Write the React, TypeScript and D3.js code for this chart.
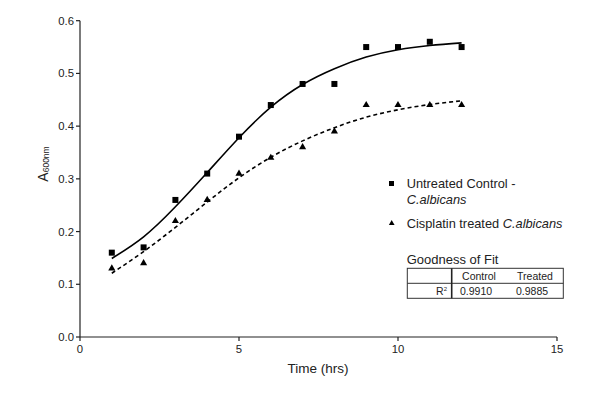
import React from "react";
import * as d3 from "d3";

const hours = [1, 2, 3, 4, 5, 6, 7, 8, 9, 10, 11, 12];
const controlValues = [0.16, 0.17, 0.26, 0.31, 0.38, 0.44, 0.48, 0.48, 0.55, 0.55, 0.56, 0.55];
const treatedValues = [0.13, 0.14, 0.22, 0.26, 0.31, 0.34, 0.36, 0.39, 0.44, 0.44, 0.44, 0.44];
const controlFit = [0.149, 0.19, 0.247, 0.312, 0.378, 0.436, 0.479, 0.509, 0.531, 0.545, 0.553, 0.558];
const treatedFit = [0.121, 0.162, 0.208, 0.256, 0.302, 0.341, 0.372, 0.397, 0.417, 0.431, 0.441, 0.448];
const xTicks = [0, 5, 10, 15];
const yTicks = [0, 0.1, 0.2, 0.3, 0.4, 0.5, 0.6];
const fitHeaders = ["Control", "Treated"];
const fitValues = ["0.9910", "0.9885"];

const FONT = "'Liberation Sans', Arial, Helvetica, sans-serif";

export default function App() {
  const W = 600, H = 404;
  const x = d3.scaleLinear().domain([0, 15]).range([80, 557]);
  const y = d3.scaleLinear().domain([0, 0.6]).range([337, 20.7]);
  const line = d3
    .line<number>()
    .x((_, i) => x(hours[i]))
    .y((d) => y(d))
    .curve(d3.curveNatural);
  const tri = d3.symbol().type(d3.symbolTriangle).size(22)();
  const sq = 6;

  const tx0 = 407.3, tx1 = 563.3, tvx = 451.7;
  const ty0 = 268.3, tmid = 283.3, ty1 = 298.3;

  return (
    <svg width={W} height={H} style={{ position: "absolute", left: 0, top: 0, background: "#fff" }} fontFamily={FONT}>
      <rect x={0} y={0} width={W} height={H} fill="#fff" />
      {/* axes */}
      <line x1={x(0)} x2={x(0)} y1={y(0)} y2={y(0.6)} stroke="#222" strokeWidth={1.2} />
      <line x1={x(0)} x2={x(15)} y1={y(0)} y2={y(0)} stroke="#222" strokeWidth={1.2} />
      {yTicks.map((t) => (
        <g key={"y" + t}>
          <line x1={x(0) - 4} x2={x(0)} y1={y(t)} y2={y(t)} stroke="#222" strokeWidth={1.2} />
          <text x={x(0) - 6} y={y(t)} dy="0.35em" textAnchor="end" fontSize={11.3} fill="#222">
            {t.toFixed(1)}
          </text>
        </g>
      ))}
      {xTicks.map((t) => (
        <g key={"x" + t}>
          <line x1={x(t)} x2={x(t)} y1={y(0)} y2={y(0) + 4} stroke="#222" strokeWidth={1.2} />
          <text x={x(t)} y={y(0) + 16} textAnchor="middle" fontSize={11.3} fill="#222">
            {t}
          </text>
        </g>
      ))}
      <text x={318} y={373} textAnchor="middle" fontSize={13.5} fill="#222">Time (hrs)</text>
      <text transform="translate(47.5,164) rotate(-90)" textAnchor="middle" fontSize={14} fill="#222">
        A<tspan fontSize={8.5} dy={1.5}>600nm</tspan>
      </text>

      {/* fits */}
      <path d={line(controlFit) || ""} fill="none" stroke="#000" strokeWidth={1.6} />
      <path d={line(treatedFit) || ""} fill="none" stroke="#000" strokeWidth={1.6} strokeDasharray="4,3" />

      {/* points */}
      {controlValues.map((v, i) => (
        <rect key={"c" + i} x={x(hours[i]) - sq / 2} y={y(v) - sq / 2} width={sq} height={sq} fill="#000" />
      ))}
      {treatedValues.map((v, i) => (
        <path key={"t" + i} d={tri || ""} transform={`translate(${x(hours[i])},${y(v)})`} fill="#000" />
      ))}

      {/* legend */}
      <rect x={389} y={181} width={5} height={5} fill="#000" />
      <text x={406.7} y={188} fontSize={12.8} fill="#222">Untreated Control -</text>
      <text x={406.7} y={203.5} fontSize={12.8} fill="#222" fontStyle="italic">C.albicans</text>
      <path d={d3.symbol().type(d3.symbolTriangle).size(14)() || ""} transform="translate(391.7,223.3)" fill="#000" />
      <text x={406.7} y={227.8} fontSize={12.8} fill="#222">
        Cisplatin treated <tspan fontStyle="italic">C.albicans</tspan>
      </text>

      {/* goodness of fit table */}
      <text x={406.7} y={263.5} fontSize={13} fill="#222">Goodness of Fit</text>
      <rect x={tx0} y={ty0} width={tx1 - tx0} height={ty1 - ty0} fill="none" stroke="#333" strokeWidth={1} />
      <line x1={tx0} x2={tx1} y1={tmid} y2={tmid} stroke="#333" strokeWidth={1} />
      <line x1={tvx} x2={tvx} y1={ty0} y2={ty1} stroke="#222" strokeWidth={1.6} />
      <text x={479} y={280} textAnchor="middle" fontSize={10.5} fill="#222">{fitHeaders[0]}</text>
      <text x={535} y={280} textAnchor="middle" fontSize={10.5} fill="#222">{fitHeaders[1]}</text>
      <text x={447} y={295} textAnchor="end" fontSize={10.5} fill="#222">
        R<tspan fontSize={6} dy={-4}>2</tspan>
      </text>
      <text x={460} y={295} fontSize={10.5} fill="#222">{fitValues[0]}</text>
      <text x={516} y={295} fontSize={10.5} fill="#222">{fitValues[1]}</text>
    </svg>
  );
}
